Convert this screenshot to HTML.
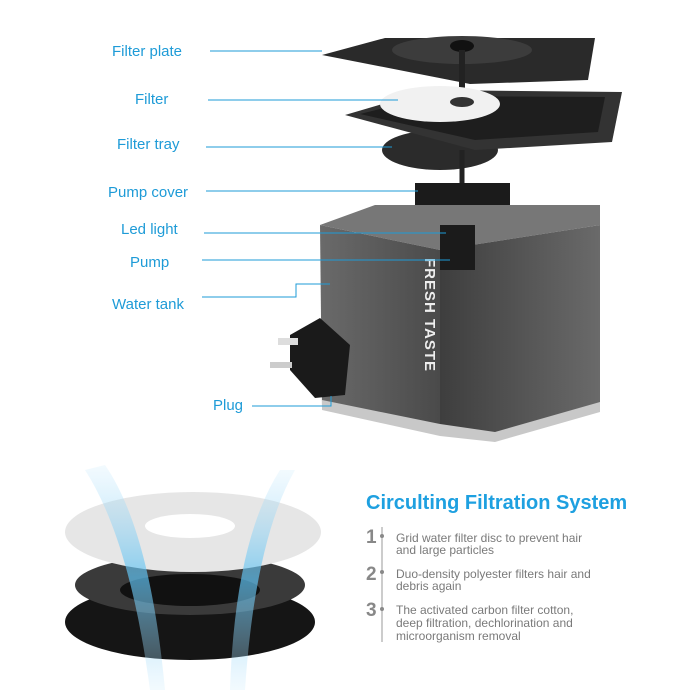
<!DOCTYPE html>
<html><head><meta charset="utf-8"><style>
html,body{margin:0;padding:0;background:#fff;}
svg{display:block;}
.lb{font-family:"Liberation Sans",sans-serif;font-size:15px;fill:#1e9bd7;}
.t{font-family:"Liberation Sans",sans-serif;font-size:12px;fill:#7a7a7a;}
.n{font-family:"Liberation Sans",sans-serif;font-size:19px;font-weight:bold;fill:#888;}
</style></head><body>
<svg width="700" height="700" viewBox="0 0 700 700" xmlns="http://www.w3.org/2000/svg">
<defs>
<linearGradient id="tl" x1="0" x2="1"><stop offset="0" stop-color="#6a6a6a"/><stop offset="1" stop-color="#4a4a4a"/></linearGradient>
<linearGradient id="tr" x1="0" x2="1"><stop offset="0" stop-color="#3e3e3e"/><stop offset="1" stop-color="#6a6a6a"/></linearGradient>
<linearGradient id="beam" x1="0" y1="0" x2="0" y2="1"><stop offset="0" stop-color="#bfe6fb" stop-opacity="0.2"/><stop offset="0.5" stop-color="#5fc2f2" stop-opacity="0.7"/><stop offset="1" stop-color="#bfe6fb" stop-opacity="0.2"/></linearGradient>
</defs>
<!-- filter plate -->
<polygon points="322,55 385,38 595,38 588,80 470,84" fill="#2a2a2a"/>
<ellipse cx="462" cy="50" rx="70" ry="14" fill="#3c3c3c"/>
<ellipse cx="462" cy="46" rx="12" ry="6" fill="#111"/>
<line x1="462" y1="50" x2="462" y2="100" stroke="#222" stroke-width="6"/>
<!-- filter tray -->
<ellipse cx="440" cy="150" rx="58" ry="20" fill="#2b2b2b"/>
<polygon points="345,115 430,90 622,92 612,142 475,150" fill="#333"/>
<polygon points="360,114 432,96 605,97 598,132 475,140" fill="#1e1e1e"/>
<ellipse cx="440" cy="104" rx="60" ry="18" fill="#f1f1f1"/>
<ellipse cx="462" cy="102" rx="12" ry="5" fill="#333"/>
<line x1="462" y1="150" x2="462" y2="185" stroke="#222" stroke-width="5"/>
<!-- pump cover -->
<rect x="415" y="183" width="95" height="32" fill="#1b1b1b"/>
<rect x="425" y="205" width="40" height="12" fill="#3a3a3a"/>
<!-- tank -->
<polygon points="320,225 375,205 600,205 600,225 440,250" fill="#777"/>
<polygon points="320,225 440,250 440,432 322,408" fill="url(#tl)"/>
<polygon points="440,250 600,225 600,410 495,440 440,432" fill="url(#tr)"/>
<polygon points="322,400 440,424 495,432 600,402 600,412 495,442 440,436 322,410" fill="#c8c8c8"/>
<rect x="440" y="225" width="35" height="45" fill="#1b1b1b"/>
<text transform="translate(425,258) rotate(90)" font-family="Liberation Sans,sans-serif" font-size="15" font-weight="bold" fill="#eee" letter-spacing="1">FRESH TASTE</text>
<!-- plug -->
<polygon points="290,335 320,318 350,345 345,395 315,398 290,370" fill="#1a1a1a"/>
<rect x="270" y="362" width="22" height="6" fill="#ccc"/>
<rect x="278" y="338" width="20" height="7" fill="#ddd"/>
<!-- labels -->
<g stroke="#1e9bd7" stroke-width="1" fill="none">
<line x1="210" y1="51" x2="322" y2="51"/>
<line x1="208" y1="100" x2="398" y2="100"/>
<line x1="206" y1="147" x2="392" y2="147"/>
<line x1="206" y1="191" x2="418" y2="191"/>
<line x1="204" y1="233" x2="446" y2="233"/>
<line x1="202" y1="260" x2="450" y2="260"/>
<polyline points="202,297 296,297 296,284 330,284"/>
<polyline points="252,406 331,406 331,396"/>
</g>
<text class="lb" x="112" y="56">Filter plate</text>
<text class="lb" x="135" y="104">Filter</text>
<text class="lb" x="117" y="149">Filter tray</text>
<text class="lb" x="108" y="197">Pump cover</text>
<text class="lb" x="121" y="234">Led light</text>
<text class="lb" x="130" y="267">Pump</text>
<text class="lb" x="112" y="309">Water tank</text>
<text class="lb" x="213" y="410">Plug</text>
<!-- discs -->
<ellipse cx="190" cy="622" rx="125" ry="38" fill="#151515"/>
<ellipse cx="190" cy="585" rx="115" ry="30" fill="#3a3a3a"/>
<ellipse cx="190" cy="590" rx="70" ry="16" fill="#111"/>
<ellipse cx="193" cy="532" rx="128" ry="40" fill="#e6e6e6"/>
<ellipse cx="190" cy="526" rx="45" ry="12" fill="#fff"/>
<path d="M85,470 Q130,540 150,690 L165,690 Q150,530 105,465 Z" fill="url(#beam)"/>
<path d="M280,470 Q235,540 230,690 L245,690 Q255,540 295,470 Z" fill="url(#beam)"/>
<!-- right text -->
<text x="366" y="509" font-family="Liberation Sans,sans-serif" font-size="20" font-weight="bold" fill="#1ea0e0">Circulting Filtration System</text>
<line x1="382" y1="527" x2="382" y2="642" stroke="#999" stroke-width="1"/>
<circle cx="382" cy="536" r="2" fill="#888"/><circle cx="382" cy="572" r="2" fill="#888"/><circle cx="382" cy="609" r="2" fill="#888"/>
<text class="n" x="366" y="543">1</text>
<text class="n" x="366" y="580">2</text>
<text class="n" x="366" y="616">3</text>
<text class="t" x="396" y="542">Grid water filter disc to prevent hair</text>
<text class="t" x="396" y="554">and large particles</text>
<text class="t" x="396" y="578">Duo-density polyester filters hair and</text>
<text class="t" x="396" y="590">debris again</text>
<text class="t" x="396" y="614">The activated carbon filter cotton,</text>
<text class="t" x="396" y="627">deep filtration, dechlorination and</text>
<text class="t" x="396" y="640">microorganism removal</text>
</svg>
</body></html>
